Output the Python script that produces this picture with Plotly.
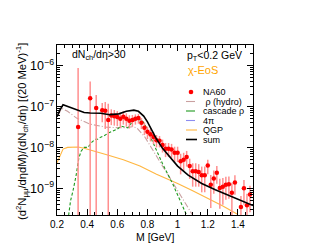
import plotly.graph_objects as go

# ---------------- data ----------------
na60_m = [0.34, 0.42, 0.46, 0.50, 0.52, 0.54, 0.56, 0.58, 0.60, 0.62, 0.64, 0.66, 0.68, 0.70,
          0.72, 0.74, 0.76, 0.78, 0.80, 0.82, 0.84, 0.86, 0.88, 0.90, 0.92, 0.94, 0.96, 0.98,
          1.00, 1.02, 1.04, 1.06, 1.08, 1.10, 1.12, 1.14, 1.16, 1.18, 1.20, 1.22, 1.24, 1.26,
          1.28, 1.30, 1.32, 1.34, 1.36, 1.38, 1.42, 1.44, 1.46, 1.48]
na60_y = [3.16e-8, 1.58e-7, 9.1e-8, 8.1e-8, 7.8e-8, 4.7e-8, 6.0e-8, 5.8e-8, 5.5e-8, 5.0e-8,
          5.6e-8, 5.0e-8, 4.5e-8, 4.7e-8, 5.0e-8, 5.2e-8, 4.0e-8, 3.0e-8, 2.4e-8, 2.1e-8,
          1.8e-8, 1.5e-8, 1.45e-8, 1.15e-8, 9.3e-9, 9.3e-9, 8.9e-9, 7.4e-9, 7.4e-9, 4.6e-9,
          5.0e-9, 5.8e-9, 3.5e-9, 2.6e-9, 2.6e-9, 2.5e-9, 2.1e-9, 2.1e-9, 3.6e-9, 1.23e-9,
          1.74e-9, 2.4e-9, 1.02e-9, 1.1e-9, 1.23e-9, 1.26e-9, 7.8e-10, 1.4e-9, 3.5e-10,
          1.0e-9, 3.9e-10, 7.1e-10]
na60_err = [8.4e-7, 2.5e-7, 1.0e-7, 4.0e-8, 5.0e-8, 7.0e-8, 2.5e-8, 2.4e-8, 2.2e-8, 2.0e-8,
            2.0e-8, 1.8e-8, 1.6e-8, 1.5e-8, 1.4e-8, 1.4e-8, 1.2e-8, 1.0e-8, 8e-9, 7e-9,
            6e-9, 5e-9, 4.5e-9, 4e-9, 3.5e-9, 3.5e-9, 3.3e-9, 3e-9, 3e-9, 2.4e-9,
            2.4e-9, 2.4e-9, 1.8e-9, 1.5e-9, 1.5e-9, 1.4e-9, 1.3e-9, 1.3e-9, 1.4e-9, 9e-10,
            1.0e-9, 1.1e-9, 7e-10, 7e-10, 7e-10, 7e-10, 6e-10, 7e-10, 3e-10,
            6e-10, 3.5e-10, 4.5e-10]

sum_m = [0.20, 0.22, 0.24, 0.27, 0.31, 0.38, 0.42, 0.49, 0.55, 0.61, 0.66, 0.71, 0.74, 0.775,
         0.80, 0.82, 0.86, 0.90, 0.94, 1.00, 1.07, 1.16, 1.25, 1.33, 1.42, 1.50]
sum_y = [5.6e-8, 8.3e-8, 1.10e-7, 1.0e-7, 8.7e-8, 7.1e-8, 6.9e-8, 6.8e-8, 6.3e-8, 6.6e-8,
         7.6e-8, 8.1e-8, 7.6e-8, 5.8e-8, 4.2e-8, 3.0e-8, 1.6e-8, 9.5e-9, 6.3e-9, 3.5e-9,
         2.1e-9, 1.32e-9, 9.3e-10, 6.9e-10, 5.0e-10, 3.8e-10]

hydro_m = [0.21, 0.23, 0.27, 0.33, 0.42, 0.53, 0.64, 0.70, 0.73, 0.78, 0.82, 0.86, 0.90,
           0.95, 1.00, 1.05, 1.10]
hydro_y = [6.3e-8, 9.1e-8, 7.6e-8, 5.2e-8, 3.7e-8, 3.1e-8, 3.0e-8, 3.2e-8, 3.0e-8, 1.86e-8,
           1.07e-8, 6.0e-9, 3.5e-9, 1.78e-9, 8.9e-10, 4.5e-10, 2.2e-10]

casc_m = [0.277, 0.29, 0.306, 0.326, 0.345, 0.36, 0.38, 0.405, 0.43, 0.452, 0.47, 0.49, 0.51,
          0.54, 0.57, 0.60, 0.625, 0.645, 0.67, 0.69, 0.71, 0.73, 0.76, 0.78, 0.80, 0.82,
          0.85, 0.90, 0.97, 1.04, 1.06]
casc_y = [2.2e-10, 5e-10, 8.7e-10, 2.0e-9, 5.5e-9, 8.1e-9, 1.0e-8, 1.0e-8, 1.32e-8, 1.58e-8,
          1.58e-8, 1.78e-8, 1.9e-8, 2.24e-8, 2.5e-8, 2.8e-8, 3.3e-8, 3.16e-8, 3.0e-8, 3.8e-8,
          4.4e-8, 4.8e-8, 4.7e-8, 3.8e-8, 2.6e-8, 1.74e-8, 9.5e-9, 4.0e-9, 1.23e-9, 3.2e-10,
          2.2e-10]

qgp_m = [0.20, 0.215, 0.24, 0.27, 0.30, 0.34, 0.38, 0.42, 0.53, 0.64, 0.75, 0.86, 1.00, 1.10,
         1.20, 1.30, 1.40]
qgp_y = [4.2e-9, 5.6e-9, 9.1e-9, 1.0e-8, 1.02e-8, 1.02e-8, 9.5e-9, 8.7e-9, 6.6e-9, 5.0e-9,
         3.5e-9, 2.2e-9, 1.32e-9, 8.7e-10, 5.8e-10, 3.7e-10, 2.3e-10]

x_ticks = [0.2, 0.4, 0.6, 0.8, 1.0, 1.2, 1.4]
x_tick_labels = ["0.2", "0.4", "0.6", "0.8", "1", "1.2", "1.4"]

legend_names = ["NA60", " \u03c1 (hydro)", "cascade \u03c1", "4\u03c0", "QGP", "sum"]

# ---------------- style ----------------
FONT = "Liberation Sans, Arial, sans-serif"
C_NA60 = "#ff0000"
C_ERR = "#ff8f8f"
C_HYDRO = "#c9a0a0"
C_CASC = "#1f9a1f"
C_4PI = "#8c8cf0"
C_QGP = "#ffb640"
C_SUM = "#000000"

W, H = 317, 245
L, R, T, B = 49, 245, 37, 207


def px2paper(px, py):
    return (px - L) / (R - L), (B - py) / (B - T)


fig = go.Figure()
fig.add_trace(go.Scatter(x=qgp_m, y=qgp_y, mode="lines",
                         line=dict(color=C_QGP, width=1.1), showlegend=False))
fig.add_trace(go.Scatter(x=hydro_m, y=hydro_y, mode="lines",
                         line=dict(color=C_HYDRO, width=1.1, dash="6px,2px,1px,2px"),
                         showlegend=False))
fig.add_trace(go.Scatter(x=casc_m, y=casc_y, mode="lines",
                         line=dict(color=C_CASC, width=1.1, dash="3px,2px"), showlegend=False))
fig.add_trace(go.Scatter(x=na60_m, y=na60_y, mode="markers",
                         marker=dict(color=C_NA60, size=4.5),
                         error_y=dict(type="data", array=na60_err, color=C_ERR,
                                      thickness=1.5, width=0),
                         showlegend=False))
fig.add_trace(go.Scatter(x=sum_m, y=sum_y, mode="lines",
                         line=dict(color=C_SUM, width=1.6), showlegend=False))

shapes = []
annotations = []

# legend (drawn manually, ROOT style)
leg_y = [84, 93.5, 103, 112.5, 122, 131.5]
leg_styles = [None,
              dict(color=C_HYDRO, width=1.1, dash="dashdot"),
              dict(color=C_CASC, width=1.1, dash="dash"),
              dict(color=C_4PI, width=1.1, dash="dashdot"),
              dict(color=C_QGP, width=1.1),
              dict(color=C_SUM, width=1.6)]
for name, py, st in zip(legend_names, leg_y, leg_styles):
    if st is None:
        cx, cy = px2paper(183, py)
        rx = 2.3 / (R - L)
        ry = 2.3 / (B - T)
        shapes.append(dict(type="circle", xref="paper", yref="paper",
                           x0=cx - rx, x1=cx + rx, y0=cy - ry, y1=cy + ry,
                           fillcolor=C_NA60, line=dict(width=0)))
    else:
        x0, y0 = px2paper(178, py)
        x1, _ = px2paper(189, py)
        shapes.append(dict(type="line", xref="paper", yref="paper",
                           x0=x0, x1=x1, y0=y0, y1=y0, line=st))
    tx, ty = px2paper(193, py)
    annotations.append(dict(text=name, xref="paper", yref="paper", x=tx, y=ty,
                            xanchor="left", yanchor="middle", showarrow=False,
                            font=dict(family=FONT, size=9, color="black")))

tx, ty = px2paper(62, 47)
annotations.append(dict(text="dN<sub>ch</sub>/d\u03b7>30", xref="paper", yref="paper",
                        x=tx, y=ty, xanchor="left", yanchor="middle", showarrow=False,
                        font=dict(family=FONT, size=10.5, color="black")))
tx, ty = px2paper(177, 48)
annotations.append(dict(text="p<sub>T</sub><0.2 GeV", xref="paper", yref="paper",
                        x=tx, y=ty, xanchor="left", yanchor="middle", showarrow=False,
                        font=dict(family=FONT, size=10.5, color="black")))
tx, ty = px2paper(178, 62)
annotations.append(dict(text="\u03c7-EoS", xref="paper", yref="paper",
                        x=tx, y=ty, xanchor="left", yanchor="middle", showarrow=False,
                        font=dict(family=FONT, size=11, color="#ffa500")))

# axis titles
tx, ty = px2paper(147, 229)
annotations.append(dict(text="M [GeV]", xref="paper", yref="paper", x=tx, y=ty,
                        xanchor="center", yanchor="middle", showarrow=False,
                        font=dict(family=FONT, size=10.5, color="black")))
tx, ty = px2paper(14, 124)
annotations.append(dict(text="(d<sup>2</sup>N<sub>\u03bc\u03bc</sub>/d\u03b7dM)/(dN<sub>ch</sub>/d\u03b7) [(20 MeV)<sup>-1</sup>]",
                        xref="paper", yref="paper", x=tx, y=ty, textangle=-90,
                        xanchor="center", yanchor="middle", showarrow=False,
                        font=dict(family=FONT, size=11.2, color="black")))

fig.update_layout(
    width=W, height=H,
    margin=dict(l=L, r=W - R, t=T, b=H - B, pad=0),
    paper_bgcolor="white", plot_bgcolor="white",
    font=dict(family=FONT, size=10, color="black"),
    shapes=shapes, annotations=annotations,
    showlegend=False,
)
fig.update_xaxes(range=[0.2, 1.5], tickvals=x_ticks, ticktext=x_tick_labels,
                 showgrid=False, zeroline=False, showline=True, linecolor="black",
                 linewidth=1, mirror="allticks", ticks="inside", ticklen=6,
                 tickcolor="black", tickfont=dict(family=FONT, size=10),
                 minor=dict(dtick=0.05, tick0=0.2, ticks="inside", ticklen=3,
                            tickcolor="black", showgrid=False))
fig.update_yaxes(type="log", range=[-9.65, -5.5], dtick=1, exponentformat="power",
                 showgrid=False, zeroline=False, showline=True, linecolor="black",
                 linewidth=1, mirror="allticks", ticks="inside", ticklen=6,
                 tickcolor="black", tickfont=dict(family=FONT, size=10),
                 minor=dict(ticks="inside", ticklen=3, tickcolor="black",
                            showgrid=False))

fig.write_html("out.html")
